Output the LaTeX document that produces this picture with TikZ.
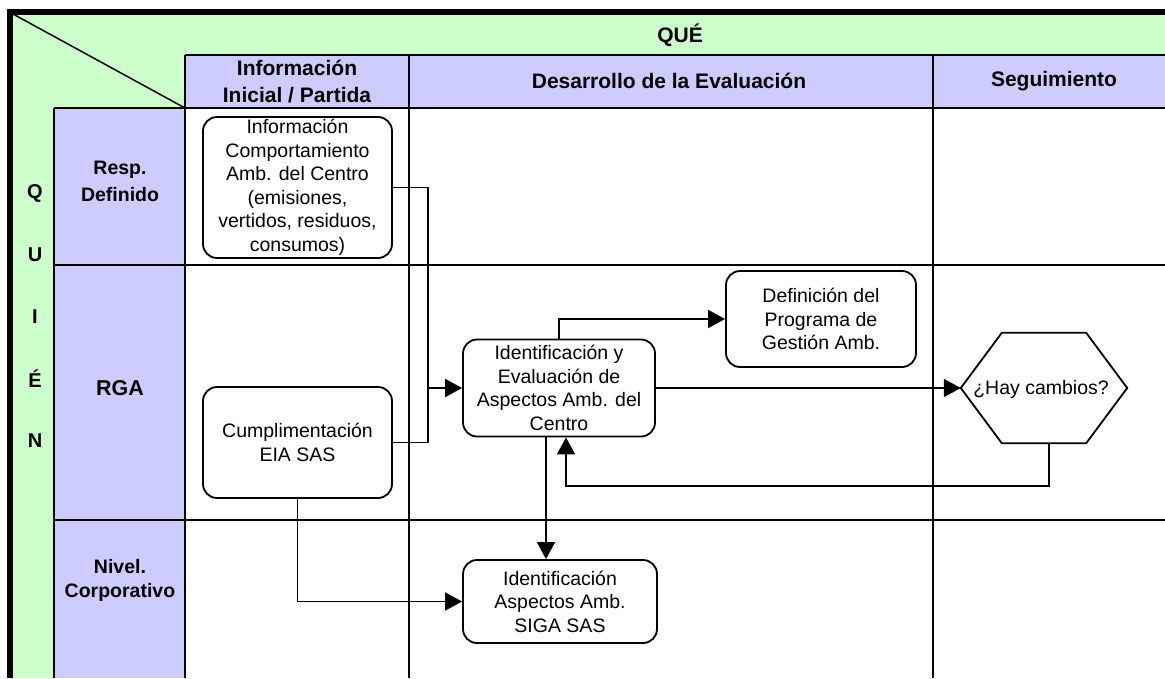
\documentclass[tikz,border=0pt]{standalone}
\usepackage{fontspec}
\setmainfont{Liberation Sans}
\usetikzlibrary{arrows.meta}
\definecolor{lgreen}{HTML}{CCFFCC}
\definecolor{lpurple}{HTML}{CCCCFF}
\newcommand\boxfont{\fontsize{19.5}{23.5}\selectfont}
\newcommand\headfont{\fontsize{21}{27}\selectfont\bfseries}
\newcommand\rowfont{\fontsize{19.5}{27}\selectfont\bfseries}
\newcommand\corpfont{\fontsize{19.5}{24}\selectfont\bfseries}
\newcommand\rgafont{\fontsize{21.5}{25}\selectfont\bfseries}
\newcommand\letterfont{\fontsize{20}{24}\selectfont\bfseries}
\begin{document}
\begin{tikzpicture}[x=1pt,y=-1pt,
  procbox/.style={draw, line width=1.8pt, rounded corners=14pt, fill=white, align=center, font=\boxfont, inner sep=0pt},
  gridline/.style={line width=2.4pt},
  conn/.style={line width=1.8pt},
  arr/.style={conn, -{Triangle[length=17pt,width=18pt]}},
  head/.style={font=\headfont, align=center},
  rowlab/.style={font=\rowfont, align=center},
  letter/.style={font=\letterfont}
]
\useasboundingbox (0,0) rectangle (1165,678);
\clip (0,0) rectangle (1165,678);
\fill[white] (0,0) rectangle (1165,678);
% backgrounds
\fill[lgreen] (10,12) rectangle (1165,678);
\fill[lpurple] (185,55) rectangle (1165,108);
\fill[lpurple] (54,108) rectangle (185,678);
\fill[white] (185,108) rectangle (1165,678);
% grid
\draw[gridline] (185,55) -- (1165,55);
\draw[gridline] (54,108) -- (1165,108);
\draw[gridline] (54,265) -- (1165,265);
\draw[gridline] (54,520) -- (1165,520);
\draw[gridline] (54,108) -- (54,678);
\draw[gridline] (185,55) -- (185,678);
\draw[gridline] (409,55) -- (409,678);
\draw[gridline] (933,55) -- (933,678);
\draw[line width=1.5pt] (13,14) -- (185,108);
\draw[line width=5.5pt, line join=miter] (10,678) -- (10,12) -- (1165,12);
% header texts
\node[head] (que) at (680,35) {QUÉ};
\node[head] (hinfo) at (297,82) {Información\\Inicial / Partida};
\node[head] (hdes) at (669,81) {Desarrollo de la Evaluación};
\node[head] (hseg) at (1054,81) {Seguimiento};
% quien letters
\node[letter] (lq) at (35,193) {Q};
\node[letter] (lu) at (35,255) {U};
\node[letter] (li) at (35,317) {I};
\node[letter] (le) at (35,379) {É};
\node[letter] (ln) at (35,441) {N};
% row labels
\node[rowlab] (rresp) at (120,181) {Resp.\\Definido};
\node[font=\rgafont] (rrga) at (120,388) {RGA};
\node[font=\corpfont, align=center] (rcorp) at (120,580) {Nivel.\\Corporativo};
% process boxes
\node[procbox, minimum width=189pt, minimum height=141pt] (info) at (297.5,187.5)
  {Información\\Comportamiento\\Amb. del Centro\\(emisiones,\\vertidos, residuos,\\consumos)};
\node[procbox, minimum width=189pt, minimum height=111pt] (cumpl) at (297.5,442.5)
  {Cumplimentación\\EIA SAS};
\node[procbox, minimum width=192pt, minimum height=97pt] (ident) at (559,388)
  {Identificación y\\Evaluación de\\Aspectos Amb. del\\Centro};
\node[procbox, minimum width=190pt, minimum height=96pt] (defin) at (821,319)
  {Definición del\\Programa de\\Gestión Amb.};
\node[procbox, minimum width=194pt, minimum height=83pt] (siga) at (560,601.5)
  {Identificación\\Aspectos Amb.\\SIGA SAS};
\node[font=\boxfont, minimum width=166pt, minimum height=110pt, inner sep=0pt] (hex) at (1044,388) {};
\draw[line width=1.8pt, fill=white] ([xshift=41]hex.north west) -- ([xshift=-41]hex.north east) -- (hex.east)
  -- ([xshift=-41]hex.south east) -- ([xshift=41]hex.south west) -- (hex.west) -- cycle;
\node[font=\boxfont] (hextxt) at (1041,389) {¿Hay cambios?};
% connectors
\coordinate (j) at (428,388);
\coordinate (lp) at (0,486);
\draw[conn] (info.east) -- (info.east -| j) -- (cumpl.east -| j) -- (cumpl.east);
\draw[arr] (j) -- (ident.west);
\draw[arr] (ident.north) |- (defin.west);
\draw[arr] (ident.east) -- (hex.west);
\draw[arr] ([xshift=5]hex.south) -- ([xshift=5]hex.south |- lp) -| ([xshift=7]ident.south);
\draw[arr] ([xshift=-13]ident.south) -- ([xshift=-13]ident.south |- siga.north);
\draw[arr] (cumpl.south) |- (siga.west);
\end{tikzpicture}
\end{document}
